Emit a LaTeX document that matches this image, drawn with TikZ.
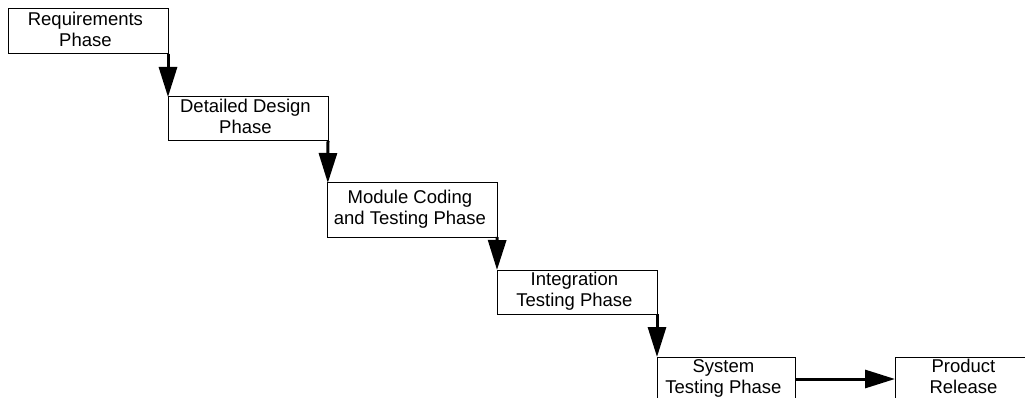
\documentclass[tikz,border=0pt]{standalone}
\usepackage{fontspec}
\setmainfont{Liberation Sans}
\usepackage{tikz}
\usetikzlibrary{arrows.meta}
\usepackage{xcolor}

\begin{document}
\begin{tikzpicture}[x=1pt,y=-1pt,
    phase/.style={draw,line width=1pt,inner sep=0pt,outer sep=0pt,align=center,
        font=\fontsize{18.5}{21}\selectfont},
    flow/.style={line width=3pt,-{Triangle[length=30pt,width=18pt]}}]
    \useasboundingbox (0,0) rectangle (1025,398);
    \clip (0,0) rectangle (1025,398);
    % Phases
    \node[phase,minimum width=160pt,minimum height=45pt] (req) at (88,31.5) {
        \begin{tabular}{c}
        Requirements\\
        Phase
        \end{tabular}
    };
    
    \node[phase,minimum width=160pt,minimum height=44pt] (design) at (248,119) {
        \begin{tabular}{c}
        Detailed Design\\
        Phase
        \end{tabular}
    };
    
    \node[phase,minimum width=169pt,minimum height=54pt] (coding) at (412.5,210) {
        \begin{tabular}{c}
        Module Coding\\
        and Testing Phase
        \end{tabular}
    };
    
    \node[phase,minimum width=160pt,minimum height=44pt] (integ) at (577,292) {
        \begin{tabular}{c}
        Integration\\
        Testing Phase
        \end{tabular}
    };
    
    \node[phase,minimum width=138pt,minimum height=44pt] (systest) at (726,379) {
        \begin{tabular}{c}
        System\\
        Testing Phase
        \end{tabular}
    };
    
    % Release, cut off at the right edge
    \node[phase,minimum width=142pt,minimum height=44pt] (release) at (966,379) {
        \begin{tabular}{c}
        Product\\
        Release
        \end{tabular}
    };
    
    % Arrows
    \draw[flow] (req.south east) -- (design.north west);
    \draw[flow] (design.south east) -- (coding.north west);
    \draw[flow] (coding.south east) -- (integ.north west);
    \draw[flow] (integ.south east) -- (systest.north west);
    \draw[flow] (systest.east) -- (release.west);
\end{tikzpicture}
\end{document}
